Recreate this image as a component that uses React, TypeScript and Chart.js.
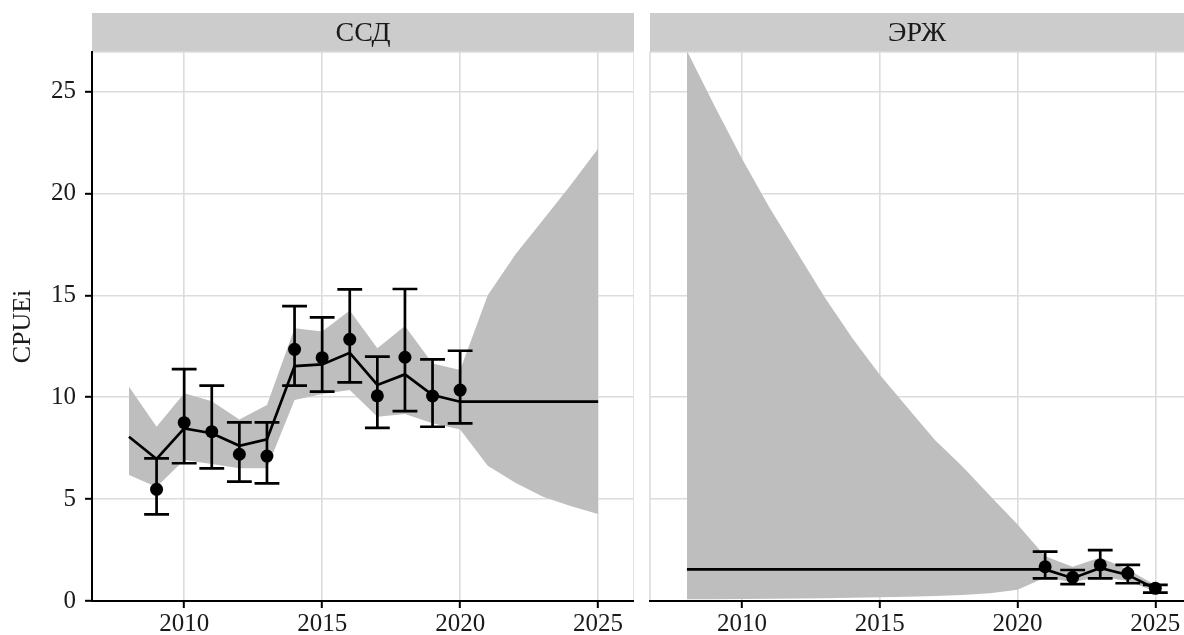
import { useEffect, useRef } from "react";
import { Chart, registerables } from "chart.js";

Chart.register(...registerables);

// ---- data -------------------------------------------------------------
const years = [2008, 2009, 2010, 2011, 2012, 2013, 2014, 2015, 2016, 2017, 2018, 2019, 2020, 2021, 2022, 2023, 2024, 2025];

// ССД: model fit and its confidence band
const ssdFit = [8.06, 6.97, 8.47, 8.23, 7.62, 7.93, 11.53, 11.61, 12.18, 10.6, 11.12, 10.11, 9.78, 9.78, 9.78, 9.78, 9.78, 9.78];
const ssdUpper = [10.52, 8.55, 10.19, 9.8, 8.91, 9.62, 13.38, 13.22, 14.25, 12.4, 13.49, 11.66, 11.33, 15.0, 17.0, 18.7, 20.4, 22.2];
const ssdLower = [6.18, 5.6, 6.92, 6.72, 6.51, 6.51, 9.86, 10.16, 10.35, 9.04, 9.18, 8.72, 8.42, 6.64, 5.8, 5.12, 4.66, 4.27];
// ССД: observed index with intervals
const ssdObsYears = [2009, 2010, 2011, 2012, 2013, 2014, 2015, 2016, 2017, 2018, 2019, 2020];
const ssdObs = [5.48, 8.75, 8.31, 7.2, 7.11, 12.35, 11.94, 12.84, 10.07, 11.96, 10.06, 10.35];
const ssdObsHi = [7.0, 11.38, 10.57, 8.77, 8.77, 14.47, 13.92, 15.29, 11.99, 15.31, 11.86, 12.28];
const ssdObsLo = [4.25, 6.76, 6.51, 5.86, 5.77, 10.57, 10.27, 10.73, 8.5, 9.32, 8.55, 8.72];

// ЭРЖ: model fit and its confidence band
const erzFit = [1.55, 1.55, 1.55, 1.55, 1.55, 1.55, 1.55, 1.55, 1.55, 1.55, 1.55, 1.55, 1.55, 1.55, 1.12, 1.62, 1.28, 0.6];
const erzUpper = [27.0, 24.3, 21.7, 19.3, 17.1, 14.9, 12.9, 11.1, 9.5, 7.9, 6.6, 5.17, 3.75, 2.2, 1.68, 2.14, 1.55, 0.78];
const erzLower = [0.08, 0.09, 0.1, 0.11, 0.12, 0.14, 0.16, 0.18, 0.21, 0.25, 0.3, 0.38, 0.55, 1.15, 0.92, 1.2, 0.98, 0.47];
// ЭРЖ: observed index with intervals
const erzObsYears = [2021, 2022, 2023, 2024, 2025];
const erzObs = [1.68, 1.16, 1.77, 1.36, 0.62];
const erzObsHi = [2.42, 1.52, 2.5, 1.77, 0.79];
const erzObsLo = [1.11, 0.83, 1.11, 0.87, 0.41];

// axes
const xTicks = [2010, 2015, 2020, 2025];
const yTicks = [0, 5, 10, 15, 20, 25];
const yTitle = "CPUEi";
const panelTitles = ["ССД", "ЭРЖ"];

// ---- style ------------------------------------------------------------
const FONT = '"Liberation Serif", "Times New Roman", serif';
const TEXT = "#1a1a1a";
const GRID = "#dcdcdc";
const RIBBON = "#bebebe";
const STRIP = "#cccccc";
const H = 635;
const STRIP_TOP = 13;
const PANEL_TOP = 52;
const X_MIN = 2006.66;
const Y_MAX = 26.94;
const CAP = 0.45;
const LINE_W = 2.7;

type PanelProps = {
  title: string;
  left: number;
  width: number;
  showY: boolean;
  xMax: number;
  rightBorder: boolean;
  fit: number[];
  upper: number[];
  lower: number[];
  obsYears: number[];
  obs: number[];
  obsHi: number[];
  obsLo: number[];
};

function Panel(p: PanelProps) {
  const ref = useRef<HTMLCanvasElement>(null);

  useEffect(() => {
    const canvas = ref.current;
    if (!canvas) return;

    const decor = {
      id: "facetDecor",
      beforeDraw(chart: any) {
        const { ctx, chartArea: a } = chart;
        ctx.save();
        ctx.fillStyle = "#ffffff";
        ctx.fillRect(0, 0, chart.width, chart.height);
        ctx.fillStyle = STRIP;
        ctx.fillRect(a.left, STRIP_TOP, a.right - a.left, a.top - STRIP_TOP);
        ctx.fillStyle = TEXT;
        ctx.font = `28px ${FONT}`;
        ctx.textAlign = "center";
        ctx.textBaseline = "middle";
        ctx.fillText(p.title, (a.left + a.right) / 2, (STRIP_TOP + a.top) / 2 + 1);
        ctx.restore();
      },
      afterDatasetsDraw(chart: any) {
        const { ctx, chartArea: a } = chart;
        const xs = chart.scales.x;
        const ys = chart.scales.y;
        ctx.save();
        // panel outline
        ctx.strokeStyle = GRID;
        ctx.lineWidth = 1.6;
        ctx.beginPath();
        ctx.moveTo(a.left, a.bottom);
        ctx.lineTo(a.left, a.top);
        ctx.lineTo(a.right, a.top);
        if (p.rightBorder) ctx.lineTo(a.right, a.bottom);
        ctx.stroke();
        // error bars
        ctx.strokeStyle = "#000";
        ctx.lineWidth = LINE_W;
        ctx.lineCap = "butt";
        p.obsYears.forEach((yr, i) => {
          const x = xs.getPixelForValue(yr);
          const half = xs.getPixelForValue(yr + CAP) - x;
          const yHi = ys.getPixelForValue(p.obsHi[i]);
          const yLo = ys.getPixelForValue(p.obsLo[i]);
          ctx.beginPath();
          ctx.moveTo(x, yHi);
          ctx.lineTo(x, yLo);
          ctx.moveTo(x - half, yHi);
          ctx.lineTo(x + half, yHi);
          ctx.moveTo(x - half, yLo);
          ctx.lineTo(x + half, yLo);
          ctx.stroke();
        });
        ctx.restore();
      },
    };

    const pts = (vals: number[]) => years.map((x, i) => ({ x, y: vals[i] }));
    const tickFont = { family: FONT, size: 25 };

    const chart = new Chart(canvas, {
      type: "line",
      data: {
        datasets: [
          {
            data: pts(p.upper),
            order: 3,
            borderColor: "rgba(0,0,0,0)",
            borderWidth: 0,
            pointRadius: 0,
            backgroundColor: RIBBON,
            fill: "+1",
          },
          {
            data: pts(p.lower),
            order: 3,
            borderColor: "rgba(0,0,0,0)",
            borderWidth: 0,
            pointRadius: 0,
            fill: false,
          },
          {
            data: pts(p.fit),
            order: 1,
            borderColor: "#000",
            borderWidth: LINE_W,
            pointRadius: 0,
            fill: false,
          },
          {
            data: p.obsYears.map((x, i) => ({ x, y: p.obs[i] })),
            order: 0,
            showLine: false,
            pointRadius: 6.5,
            pointBackgroundColor: "#000",
            pointBorderWidth: 0,
            fill: false,
          },
        ],
      } as any,
      options: {
        animation: false,
        responsive: false,
        events: [],
        layout: { autoPadding: false, padding: { left: 0, right: 0, top: PANEL_TOP, bottom: 0 } },
        plugins: { legend: { display: false }, tooltip: { enabled: false } },
        scales: {
          x: {
            type: "linear",
            min: X_MIN,
            max: p.xMax,
            afterBuildTicks: (s: any) => {
              s.ticks = xTicks.map((v) => ({ value: v }));
            },
            afterFit: (s: any) => {
              s.height = H - 601;
              s.paddingLeft = 0;
              s.paddingRight = 0;
            },
            grid: { color: GRID, lineWidth: 1.6, tickColor: "#000", tickLength: 7, tickWidth: 2 },
            border: { display: true, color: "#000", width: 2, z: 1 },
            ticks: {
              color: TEXT,
              font: tickFont,
              padding: 1,
              maxRotation: 0,
              autoSkip: false,
              callback: (v: any) => String(v),
            },
          },
          y: {
            type: "linear",
            min: 0,
            max: Y_MAX,
            afterBuildTicks: (s: any) => {
              s.ticks = yTicks.map((v) => ({ value: v }));
            },
            afterFit: (s: any) => {
              s.width = p.showY ? 92 : 16;
              s.paddingTop = 0;
              s.paddingBottom = 0;
            },
            grid: { color: GRID, lineWidth: 1.6, drawTicks: p.showY, tickColor: "#000", tickLength: 7, tickWidth: 2 },
            border: { display: p.showY, color: "#000", width: 2, z: 1 },
            ticks: {
              display: p.showY,
              color: TEXT,
              font: tickFont,
              padding: 9,
              callback: (v: any) => String(v),
            },
            title: {
              display: p.showY,
              text: yTitle,
              color: TEXT,
              font: { family: FONT, size: 26 },
              padding: { top: 8, bottom: 0 },
            },
          },
        },
      } as any,
      plugins: [decor],
    });

    return () => chart.destroy();
  }, []);

  return (
    <canvas
      ref={ref}
      width={p.width}
      height={H}
      style={{ position: "absolute", left: p.left, top: 0, width: p.width, height: H }}
    />
  );
}

export default function App() {
  return (
    <div style={{ position: "absolute", left: 0, top: 0, width: 1184, height: H, background: "#fff", overflow: "hidden" }}>
      <Panel
        title={panelTitles[0]}
        left={0}
        width={634}
        showY={true}
        xMax={2026.3}
        rightBorder={true}
        fit={ssdFit}
        upper={ssdUpper}
        lower={ssdLower}
        obsYears={ssdObsYears}
        obs={ssdObs}
        obsHi={ssdObsHi}
        obsLo={ssdObsLo}
      />
      <Panel
        title={panelTitles[1]}
        left={634}
        width={550}
        showY={false}
        xMax={2026.04}
        rightBorder={false}
        fit={erzFit}
        upper={erzUpper}
        lower={erzLower}
        obsYears={erzObsYears}
        obs={erzObs}
        obsHi={erzObsHi}
        obsLo={erzObsLo}
      />
    </div>
  );
}
